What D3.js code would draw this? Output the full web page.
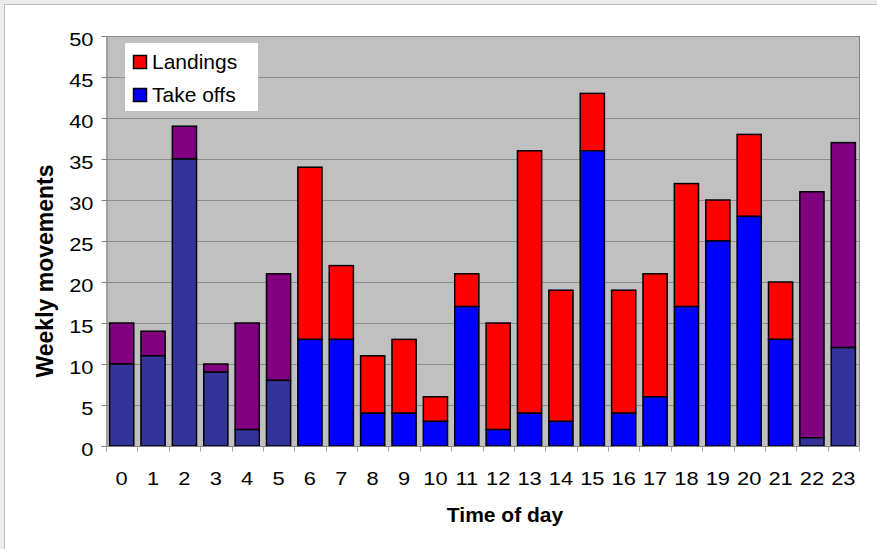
<!DOCTYPE html>
<html>
<head>
<meta charset="utf-8">
<script src="https://cdn.jsdelivr.net/npm/d3@7"></script>
<style>
  html, body { margin: 0; padding: 0; background: #ffffff; }
  svg { display: block; font-family: Arial, "Liberation Sans", sans-serif; }
</style>
</head>
<body>
<svg id="chart" width="877" height="549"></svg>
<script>
// Weekly aircraft movements per hour of the day
const hours = ["0","1","2","3","4","5","6","7","8","9","10","11","12","13","14","15","16","17","18","19","20","21","22","23"];
const takeOffs = [10, 11, 35, 9, 2, 8, 13, 13, 4, 4, 3, 17, 2, 4, 3, 36, 4, 6, 17, 25, 28, 13, 1, 12];
const landings = [5, 3, 4, 1, 13, 13, 21, 9, 7, 9, 3, 4, 13, 32, 16, 7, 15, 15, 15, 5, 10, 7, 30, 25];
// Night-time hours are drawn in a darker palette
const nightHours = ["0","1","2","3","4","5","22","23"];
const yTicks = [0, 5, 10, 15, 20, 25, 30, 35, 40, 45, 50];
const seriesNames = ["Landings", "Take offs"];

const colors = {
  day:   { takeOffs: "#0000ff", landings: "#ff0000" },
  night: { takeOffs: "#333399", landings: "#800080" }
};

const svg = d3.select("#chart");
const W = 877, H = 549;
const plot = { left: 106, right: 859, top: 36, bottom: 446 };
const labelStretch = 1.18;   // wide numerals used for the axis labels

// outer chart frame (continues past the right and bottom edges)
svg.append("rect").attr("x", 0).attr("y", 0).attr("width", W).attr("height", H).attr("fill", "#ececec");
svg.append("rect").attr("x", 4.5).attr("y", 4.5).attr("width", W + 10).attr("height", H + 10)
  .attr("fill", "#ffffff").attr("stroke", "#bdbdbd").attr("stroke-width", 1);

const x = d3.scaleBand().domain(hours).range([plot.left, plot.right]).paddingInner(0.23).paddingOuter(0.115);
const y = d3.scaleLinear().domain([0, 50]).range([plot.bottom, plot.top]);

// plot area
svg.append("rect")
  .attr("x", plot.left).attr("y", plot.top)
  .attr("width", plot.right - plot.left).attr("height", plot.bottom - plot.top)
  .attr("fill", "#c0c0c0");

// gridlines
svg.append("g").selectAll("line").data(yTicks.filter(d => d > 0)).join("line")
  .attr("x1", plot.left).attr("x2", plot.right)
  .attr("y1", d => Math.round(y(d)) + 0.5).attr("y2", d => Math.round(y(d)) + 0.5)
  .attr("stroke", "#8c8c8c").attr("stroke-width", 1);

// plot area border (right side)
svg.append("line")
  .attr("x1", plot.right + 0.5).attr("x2", plot.right + 0.5)
  .attr("y1", plot.top).attr("y2", plot.bottom)
  .attr("stroke", "#808080");

// stacked bars
const rows = hours.map((h, i) => ({ h, t: takeOffs[i], l: landings[i], night: nightHours.includes(h) }));
const g = svg.append("g");
rows.forEach(r => {
  const pal = r.night ? colors.night : colors.day;
  g.append("rect")
    .attr("x", x(r.h)).attr("width", x.bandwidth())
    .attr("y", y(r.t + r.l)).attr("height", y(r.t) - y(r.t + r.l))
    .attr("fill", pal.landings).attr("stroke", "#000").attr("stroke-width", 1.5);
  g.append("rect")
    .attr("x", x(r.h)).attr("width", x.bandwidth())
    .attr("y", y(r.t)).attr("height", y(0) - y(r.t))
    .attr("fill", pal.takeOffs).attr("stroke", "#000").attr("stroke-width", 1.5);
});

// y axis
const yAxis = d3.axisLeft(y).tickValues(yTicks).tickSize(5).tickPadding(6);
const ya = svg.append("g").attr("transform", `translate(${plot.left + 0.5},0)`).call(yAxis);
ya.select(".domain").attr("stroke", "#808080");
ya.selectAll(".tick line").attr("stroke", "#808080");
ya.selectAll(".tick text")
  .attr("x", null).attr("dy", null)
  .attr("transform", `translate(-13,9.5) scale(${labelStretch},1)`)
  .attr("font-size", 18.5).attr("fill", "#000")
  .attr("font-family", "Arial, 'Liberation Sans', sans-serif");

// x axis: tick marks sit between categories
const xa = svg.append("g").attr("transform", `translate(0,${plot.bottom + 0.5})`);
xa.append("line").attr("x1", plot.left).attr("x2", plot.right).attr("stroke", "#808080");
xa.selectAll(".sep").data(d3.range(hours.length + 1)).join("line")
  .attr("x1", i => Math.round(plot.left + i * x.step()) + 0.5)
  .attr("x2", i => Math.round(plot.left + i * x.step()) + 0.5)
  .attr("y1", 0).attr("y2", 5).attr("stroke", "#a0a0a0");
xa.selectAll("text").data(hours).join("text")
  .attr("transform", d => `translate(${x(d) + x.bandwidth() / 2},38) scale(${labelStretch},1)`)
  .attr("text-anchor", "middle")
  .attr("font-size", 18.5)
  .text(d => d);

// axis titles
svg.append("text")
  .attr("x", 505).attr("y", 522)
  .attr("text-anchor", "middle").attr("font-weight", "bold").attr("font-size", 21)
  .text("Time of day");
svg.append("text")
  .attr("transform", "translate(53,271) rotate(-90)")
  .attr("text-anchor", "middle").attr("font-weight", "bold").attr("font-size", 23)
  .text("Weekly movements");

// legend
const lg = svg.append("g");
lg.append("rect").attr("x", 125).attr("y", 43).attr("width", 133).attr("height", 68).attr("fill", "#ffffff");
const legendItems = [
  { name: seriesNames[0], color: colors.day.landings },
  { name: seriesNames[1], color: colors.day.takeOffs }
];
legendItems.forEach((d, i) => {
  const cy = 62 + i * 33;
  lg.append("rect").attr("x", 133.5).attr("y", cy - 6.5).attr("width", 13).attr("height", 13)
    .attr("fill", d.color).attr("stroke", "#000").attr("stroke-width", 1.5);
  lg.append("text")
    .attr("transform", `translate(152,${cy + 6.5}) scale(1.05,1)`)
    .attr("font-size", 20).text(d.name);
});
</script>
</body>
</html>
